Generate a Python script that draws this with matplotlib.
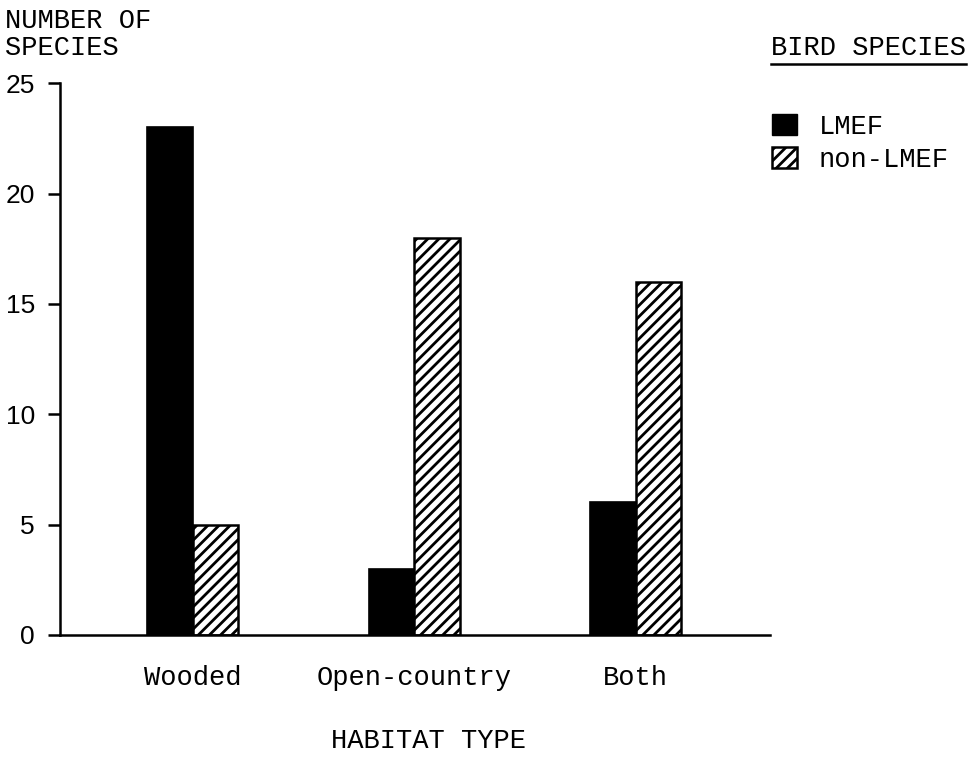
import numpy as np
import matplotlib
matplotlib.use("Agg")
import matplotlib.pyplot as plt
from matplotlib.patches import Patch

habitats = ["Wooded", "Open-country", "Both"]
lmef = [23, 3, 6]
non_lmef = [5, 18, 16]

plt.rcParams['font.family'] = ['Liberation Mono', 'DejaVu Sans Mono']
plt.rcParams['hatch.linewidth'] = 2.0
fs = 19.5

fig = plt.figure(figsize=(9.68, 7.64), dpi=100)
ax = fig.add_axes([0.062, 0.169, 0.733, 0.722])

x = np.arange(len(habitats))
w = 0.205
ax.bar(x - w/2, lmef, w, color="black", edgecolor="black", linewidth=1.2)
ax.bar(x + w/2, non_lmef, w, color="white", edgecolor="black", hatch="///", linewidth=1.8)

ax.set_xlim(-0.6, 2.605)
ax.set_ylim(0, 25)
ax.set_yticks([0, 5, 10, 15, 20, 25])
ax.set_xticks(x)
ax.set_xticklabels(habitats, fontsize=fs)
ax.set_yticklabels(["0", "5", "10", "15", "20", "25"], fontsize=19,
                   family=["Liberation Sans", "DejaVu Sans"])
ax.tick_params(axis="x", length=0, pad=22)
ax.tick_params(axis="y", length=9, width=1.8, pad=9)
for s in ["top", "right"]:
    ax.spines[s].set_visible(False)
ax.spines["left"].set_linewidth(1.8)
ax.spines["bottom"].set_linewidth(1.8)

fig.text(0.443, 0.03, "HABITAT TYPE", fontsize=fs, ha="center", va="center")
fig.text(0.005, 0.99, "NUMBER OF\nSPECIES", fontsize=fs, va="top", ha="left", linespacing=1.05)

# legend title, underlined
title = fig.text(0.797, 0.937, "BIRD SPECIES", fontsize=fs, ha="left", va="center")
fig.canvas.draw()
tb = title.get_window_extent().transformed(fig.transFigure.inverted())
fig.add_artist(plt.Line2D([tb.x0, tb.x1], [tb.y0 - 0.004, tb.y0 - 0.004],
                          transform=fig.transFigure, color="black", lw=1.8))

handles = [Patch(facecolor="black", edgecolor="black"),
           Patch(facecolor="white", edgecolor="black", hatch="///", linewidth=1.8)]
fig.legend(handles, ["LMEF", "non-LMEF"], loc="upper left",
           bbox_to_anchor=(0.772, 0.883), frameon=False, fontsize=fs,
           handlelength=0.95, handleheight=0.85, handletextpad=0.8,
           labelspacing=0.25)

fig.savefig("out.png", dpi=100)
